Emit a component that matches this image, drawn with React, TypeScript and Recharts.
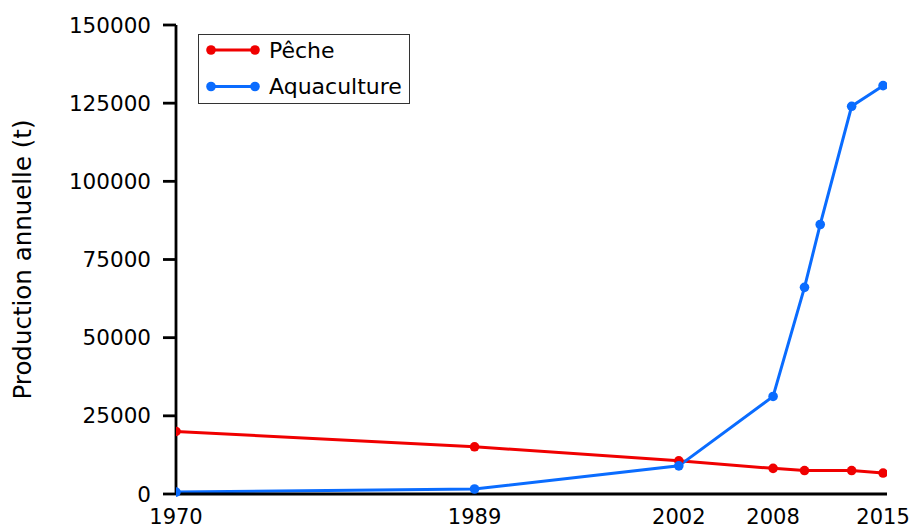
import React from "react";
import { LineChart, Line, XAxis, YAxis, Legend } from "recharts";

const years = [1970, 1989, 2002, 2008, 2010, 2011, 2013, 2015];
const peche: (number | null)[] = [20000, 15100, 10600, 8200, 7500, null, 7500, 6700];
const aquaculture = [600, 1600, 9000, 31200, 66100, 86200, 124000, 130600];
const xTicks = [1970, 1989, 2002, 2008, 2015];
const yTicks = [0, 25000, 50000, 75000, 100000, 125000, 150000];

const data = years.map((y, i) => ({ year: y, peche: peche[i], aqua: aquaculture[i] }));

const RED = "#f00000";
const BLUE = "#0a6cff";
const FONT = "DejaVu Sans";

const LegendBox = () => {
  const items = [
    { label: "Pêche", color: RED },
    { label: "Aquaculture", color: BLUE },
  ];
  return (
    <div
      style={{
        border: "1.5px solid #333",
        width: 212,
        height: 70,
        boxSizing: "border-box",
        background: "#fff",
        position: "relative",
      }}
    >
      <svg width={212} height={70} style={{ position: "absolute", left: 0, top: 0 }}>
        {items.map((it, i) => {
          const cy = 15 + i * 36.5;
          return (
            <g key={it.label}>
              <line x1={12} x2={56} y1={cy} y2={cy} stroke={it.color} strokeWidth={3} />
              <circle cx={12} cy={cy} r={4.8} fill={it.color} />
              <circle cx={56} cy={cy} r={4.8} fill={it.color} />
              <text
                x={70}
                y={cy}
                dominantBaseline="central"
                fontFamily={FONT}
                fontSize={22}
                fill="#000"
              >
                {it.label}
              </text>
            </g>
          );
        })}
      </svg>
    </div>
  );
};

const YLabel = (props: any) => {
  const vb = props.viewBox || { x: 0, y: 0, width: 0, height: 0 };
  const cx = vb.x + 22;
  const cy = vb.y + vb.height / 2;
  return (
    <text
      x={cx}
      y={cy}
      transform={`rotate(-90 ${cx} ${cy})`}
      textAnchor="middle"
      dominantBaseline="central"
      fontFamily={FONT}
      fontSize={24.5}
      fill="#000"
    >
      Production annuelle (t)
    </text>
  );
};

export default function App() {
  return (
    <div style={{ position: "absolute", left: 0, top: 0, background: "#fff" }}>
      <LineChart
        width={912}
        height={529}
        data={data}
        margin={{ top: 25, right: 25, left: 0, bottom: 0 }}
      >
        <XAxis
          dataKey="year"
          type="number"
          domain={[1970, 2015.25]}
          ticks={xTicks}
          allowDataOverflow
          height={35}
          tickLine={false}
          tickSize={0}
          tickMargin={15}
          axisLine={{ stroke: "#000", strokeWidth: 2.8 }}
          tick={{ fill: "#000", fontFamily: FONT, fontSize: 21 }}
          interval={0}
        />
        <YAxis
          type="number"
          domain={[0, 150000]}
          ticks={yTicks}
          width={176}
          tickSize={13}
          tickMargin={12}
          tickLine={{ stroke: "#000", strokeWidth: 2.8 }}
          axisLine={{ stroke: "#000", strokeWidth: 2.8 }}
          tick={{ fill: "#000", fontFamily: FONT, fontSize: 21.5 }}
          interval={0}
          label={{ content: YLabel }}
        />
        <Legend
          layout="horizontal"
          verticalAlign="middle"
          align="center"
          content={() => <LegendBox />}
          wrapperStyle={{ position: "absolute", left: 198, top: 34, width: 212, height: 70 }}
        />
        <Line
          dataKey="peche"
          stroke={RED}
          strokeWidth={3}
          connectNulls
          dot={{ r: 4.8, fill: RED, stroke: RED, strokeWidth: 0 }}
          activeDot={false}
          isAnimationActive={false}
        />
        <Line
          dataKey="aqua"
          stroke={BLUE}
          strokeWidth={3}
          dot={{ r: 4.8, fill: BLUE, stroke: BLUE, strokeWidth: 0 }}
          activeDot={false}
          isAnimationActive={false}
        />
      </LineChart>
    </div>
  );
}
